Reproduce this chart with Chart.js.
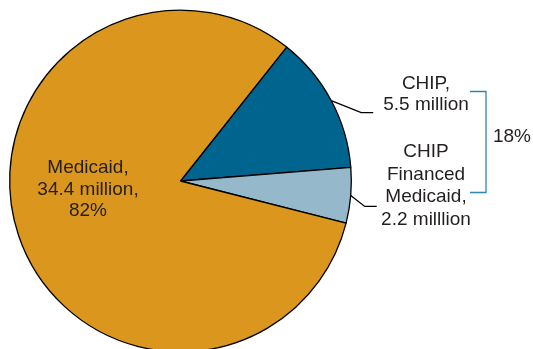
<!DOCTYPE html>
<html>
<head>
<meta charset="utf-8">
<script src="https://cdn.jsdelivr.net/npm/chart.js@4"></script>
<style>
  html, body { margin: 0; padding: 0; background: #fff; }
  #wrap { width: 533px; height: 349px; overflow: hidden; position: relative; }
  canvas { display: block; }
</style>
</head>
<body>
<div id="wrap"><canvas id="grafico" width="533" height="362"></canvas></div>
<script>
// enrollment by program, in millions
const programas = ["CHIP", "CHIP Financed Medicaid", "Medicaid"];
const inscritos = [5.5, 2.2, 34.4];
const cores = ["#00658e", "#95b8cb", "#da961d"];

// text shown beside each slice
const rotuloChip = ["CHIP,", "5.5 million"];
const rotuloChipMedicaid = ["CHIP", "Financed", "Medicaid,", "2.2 milllion"];

const total = inscritos.reduce((a, b) => a + b, 0);
const pctMedicaid = Math.round(inscritos[2] / total * 100);
const pctChip = Math.round((inscritos[0] + inscritos[1]) / total * 100);
const rotuloMedicaid = ["Medicaid,", inscritos[2] + " million,", pctMedicaid + "%"];

const fonte = "19px 'Liberation Sans', Arial, sans-serif";
const corTexto = "#231f20";
const corChave = "#2e86b0";

function linhas(ctx, textos, x, y, alt) {
  textos.forEach((t, i) => ctx.fillText(t, x, y + i * alt));
}

// leader line from the middle of a slice edge, bent into a short horizontal
function guia(ctx, arco, dx, dy, fim) {
  const meio = (arco.startAngle + arco.endAngle) / 2;
  const x0 = arco.x + Math.cos(meio) * arco.outerRadius;
  const y0 = arco.y + Math.sin(meio) * arco.outerRadius;
  ctx.beginPath();
  ctx.moveTo(x0, y0);
  ctx.lineTo(x0 + dx, y0 + dy);
  ctx.lineTo(x0 + dx + fim, y0 + dy);
  ctx.stroke();
}

const rotulos = {
  id: "rotulos",
  afterDraw(chart) {
    const ctx = chart.ctx;
    const arcos = chart.getDatasetMeta(0).data;
    ctx.save();
    ctx.strokeStyle = "#000";
    ctx.lineWidth = 1.3;
    guia(ctx, arcos[0], 30, 12, 12);
    guia(ctx, arcos[1], 14, 11, 12);

    ctx.font = fonte;
    ctx.fillStyle = corTexto;
    ctx.textAlign = "center";
    ctx.textBaseline = "middle";
    linhas(ctx, rotuloChip, 426, 84, 21);
    linhas(ctx, rotuloChipMedicaid, 426, 152, 22.5);
    linhas(ctx, rotuloMedicaid, 88, 168, 21.5);

    // bracket grouping both CHIP slices
    ctx.strokeStyle = corChave;
    ctx.lineWidth = 1.3;
    ctx.beginPath();
    ctx.moveTo(470, 91.5);
    ctx.lineTo(486, 91.5);
    ctx.lineTo(486, 192.5);
    ctx.lineTo(470, 192.5);
    ctx.stroke();
    ctx.fillStyle = corTexto;
    ctx.fillText(pctChip + "%", 512, 137);
    ctx.restore();
  }
};

new Chart(document.getElementById("grafico"), {
  type: "pie",
  data: {
    labels: programas,
    datasets: [{
      data: inscritos,
      backgroundColor: cores,
      borderColor: "#000",
      borderWidth: 1.3,
    }],
  },
  options: {
    responsive: false,
    animation: false,
    rotation: 38.4,
    layout: { padding: { left: 9, top: 9, right: 181, bottom: 9 } },
    plugins: {
      legend: { display: false },
      tooltip: { enabled: false },
    },
  },
  plugins: [rotulos],
});
</script>
</body>
</html>
